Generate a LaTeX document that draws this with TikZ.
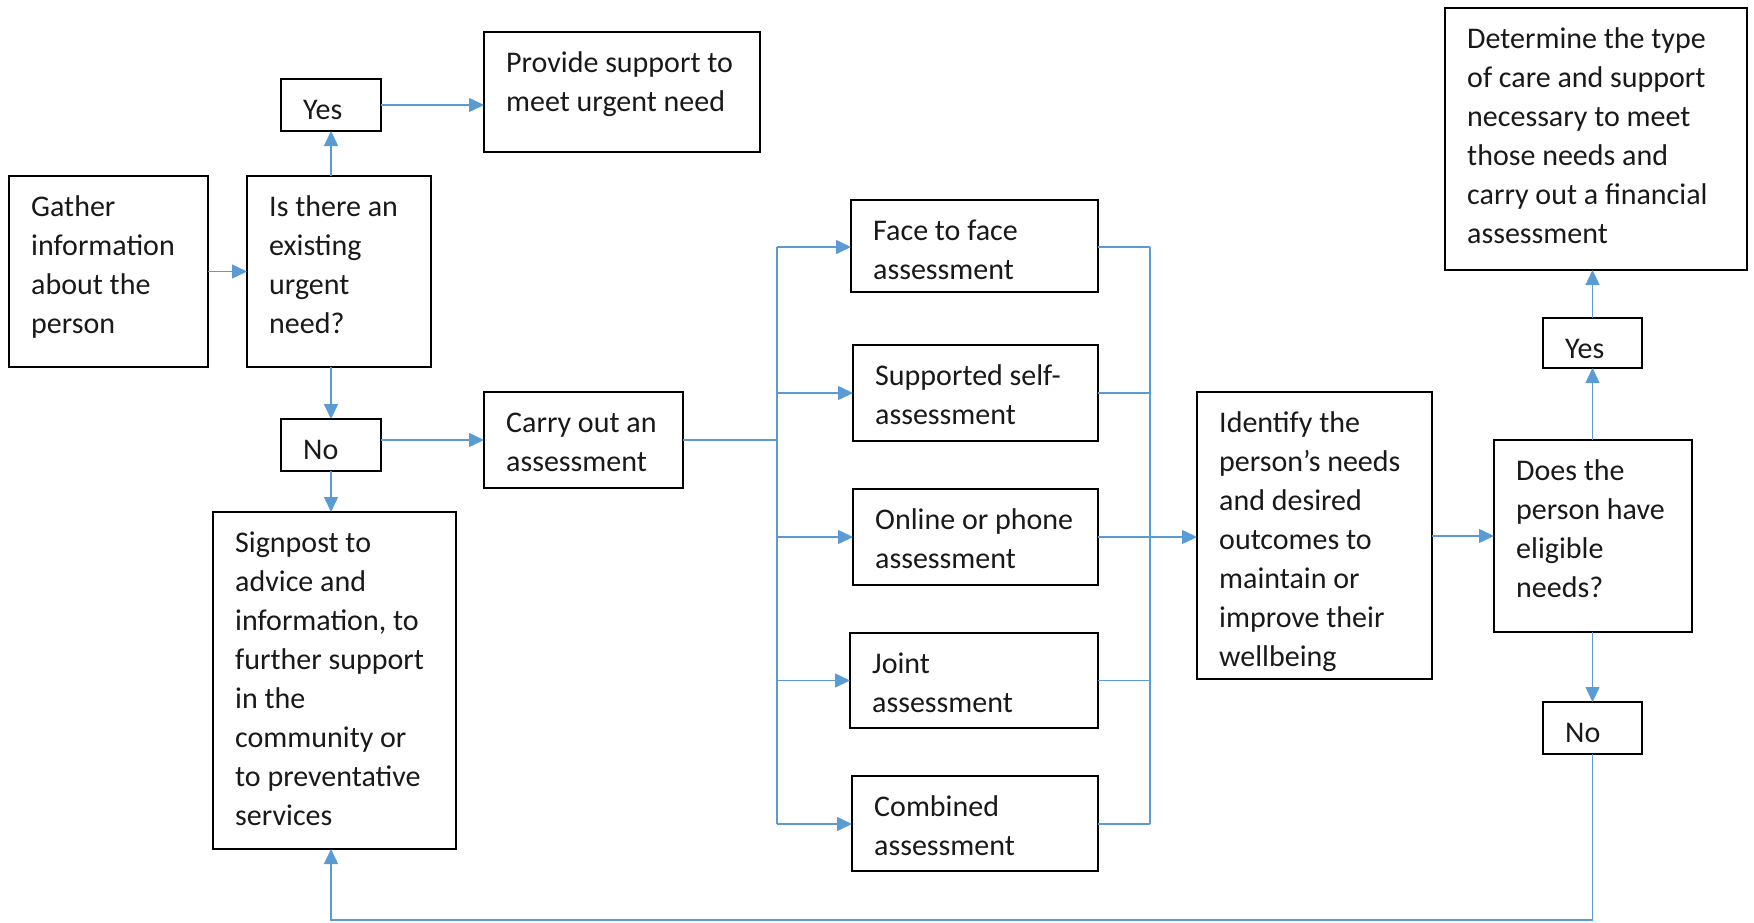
\documentclass[tikz,border=0pt]{standalone}
\usepackage{fontspec}
\setmainfont{Carlito}
\usetikzlibrary{arrows.meta}
\definecolor{conn}{HTML}{5B9BD5}
\tikzset{
  box/.style={draw=black, line width=2pt, inner sep=0pt, outer sep=0pt, anchor=north west},
  txt/.style={anchor=north west, inner sep=0pt, align=left, text=black!90, font=\fontsize{30}{39}\selectfont},
  conline/.style={draw=conn, line width=1.5pt},
  arr/.style={conline, -{Triangle[length=15pt,width=14pt]}},
}
\newcommand\mkbox[6]{%
  \node[box, minimum width={#4pt-#2pt}, minimum height={#5pt-#3pt}] (#1) at (#2,#3) {};
  \node[txt] (#1-t) at ([xshift=22pt,yshift=-15pt]#1.north west) {\rule{0pt}{25pt}#6};}
\begin{document}
\begin{tikzpicture}[x=1pt,y=-1pt]
\useasboundingbox (0,0) rectangle (1754,922);
\mkbox{gather}{9}{176}{208}{367}{Gather\\information\\about the\\person}
\mkbox{isthere}{247}{176}{431}{367}{Is there an\\existing\\urgent\\need?}
\mkbox{yesa}{281}{79}{381}{131}{Yes}
\mkbox{provide}{484}{32}{760}{152}{Provide support to\\meet urgent need}
\mkbox{noa}{281}{419}{381}{471}{No}
\mkbox{carry}{484}{392}{683}{488}{Carry out an\\assessment}
\mkbox{signpost}{213}{512}{456}{849}{Signpost to\\advice and\\information, to\\further support\\in the\\community or\\to preventative\\services}
\mkbox{face}{851}{200}{1098}{292}{Face to face\\assessment}
\mkbox{supp}{853}{345}{1098}{441}{Supported self-\\assessment}
\mkbox{online}{853}{489}{1098}{585}{Online or phone\\assessment}
\mkbox{joint}{850}{633}{1098}{728}{Joint\\assessment}
\mkbox{comb}{852}{776}{1098}{871}{Combined\\assessment}
\mkbox{identify}{1197}{392}{1432}{679}{Identify the\\person’s needs\\and desired\\outcomes to\\maintain or\\improve their\\wellbeing}
\mkbox{does}{1494}{440}{1692}{632}{Does the\\person have\\eligible\\needs?}
\mkbox{yesb}{1543}{318}{1642}{368}{Yes}
\mkbox{nob}{1543}{702}{1642}{754}{No}
\mkbox{determine}{1445}{8}{1747}{270}{Determine the type\\of care and support\\necessary to meet\\those needs and\\carry out a financial\\assessment}

\coordinate (bl1) at (777,247);
\coordinate (bl2) at (777,824);
\coordinate (br1) at (1150,247);
\coordinate (br2) at (1150,824);
\coordinate (lp) at (331,920);

\draw[arr] (gather.east) -- (isthere.west);
\draw[arr] (yesa.south |- isthere.north) -- (yesa.south);
\draw[arr] (yesa.east) -- (yesa.east -| provide.west);
\draw[arr] (noa.north |- isthere.south) -- (noa.north);
\draw[arr] (noa.east |- carry.west) -- (carry.west);
\draw[arr] (noa.south) -- (noa.south |- signpost.north);

\draw[conline] (carry.east) -- (carry.east -| bl1);
\draw[conline] (bl1) -- (bl2);
\draw[arr] (bl1) -- (bl1 -| face.west);
\draw[arr] (bl1 |- supp.west) -- (supp.west);
\draw[arr] (bl1 |- online.west) -- (online.west);
\draw[arr] (bl1 |- joint.west) -- (joint.west);
\draw[arr] (bl2) -- (bl2 -| comb.west);

\draw[conline] (br1) -- (br2);
\draw[conline] (br1 -| face.east) -- (br1);
\draw[conline] (supp.east) -- (supp.east -| br1);
\draw[conline] (joint.east) -- (joint.east -| br1);
\draw[conline] (br2 -| comb.east) -- (br2);
\draw[arr] (online.east) -- (online.east -| identify.west);

\draw[arr] (identify.east |- does.west) -- (does.west);
\draw[arr] (yesb.south |- does.north) -- (yesb.south);
\draw[arr] (yesb.north) -- (yesb.north |- determine.south);
\draw[arr] (nob.north |- does.south) -- (nob.north);
\draw[arr] (nob.south) |- (lp) -- (lp |- signpost.south);
\end{tikzpicture}
\end{document}
